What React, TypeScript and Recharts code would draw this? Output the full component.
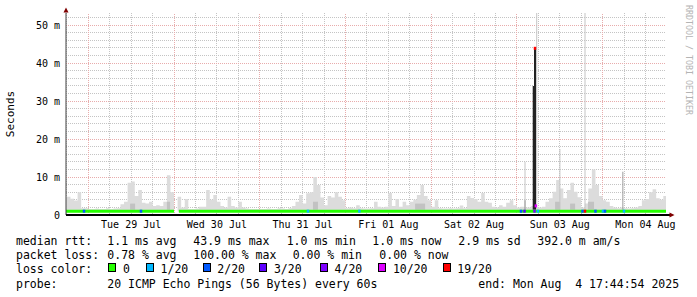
import React from 'react';
import {
  ComposedChart,
  Area,
  Line,
  Scatter,
  XAxis,
  YAxis,
  CartesianGrid,
  ReferenceLine,
  ReferenceArea,
  ReferenceDot
} from 'recharts';

// time axis is in hours since Mon 28 Jul 00:00
const startT = 17.75; // Mon 28 Jul 17:44:54
const endT = 185.75; // Mon 04 Aug 17:44:54
const firstHour = 17;
const minRtt = 0.9;
const yMax = 53.2;

// hourly smoke height (ms) - light grey band
const smokeJul28 = [4.8, 4.8, 4.3, 3.8, 6.0, 1.8, 1.8];
const smokeJul29 = [1.6, 1.6, 1.7, 1.6, 1.6, 1.8, 1.6, 1.7, 1.8, 2.8, 3.5, 8.5, 8.8, 5.0, 6.6, 3.2, 3.0, 3.5, 2.4, 2.6, 2.4, 3.5, 10.5, 6.0];
const smokeJul30 = [null, 4.8, 2.0, 4.2, 1.6, 1.6, 1.7, 2.2, 2.2, 6.6, 4.0, 5.3, 3.5, 2.4, 2.0, 4.8, 2.4, 2.0, 3.5, 2.0, 1.7, 1.6, 1.6, 1.6];
const smokeJul31 = [1.6, 1.6, 1.7, 1.6, 1.6, 1.8, 1.7, 1.6, 1.8, 2.4, 3.5, 5.3, 3.0, 5.7, 6.0, 10.0, 7.9, 4.6, 2.6, 5.0, 4.6, 6.0, 4.8, 3.9];
const smokeAug01 = [1.8, 2.0, 1.8, 2.6, 1.8, 1.7, 1.7, 1.8, 3.5, 2.2, 2.0, 2.2, 5.8, 2.4, 4.2, 2.2, 3.5, 2.6, 3.5, 4.0, 5.3, 7.9, 5.0, 3.9];
const smokeAug02 = [2.2, 3.9, 1.8, 1.7, 1.7, 1.8, 1.7, 1.8, 2.5, 1.8, 5.0, 4.5, 4.2, 3.5, 5.8, 3.5, 3.2, 2.2, 2.0, 2.6, 2.2, 3.2, 3.9, 2.6];
const smokeAug03 = [2.0, 2.2, 2.0, 2.0, 2.4, 2.0, 2.0, 2.2, 3.5, 4.4, 6.1, 9.2, 7.0, 4.4, 6.6, 8.5, 6.1, 4.7, 2.0, 3.0, 7.0, 12.0, 7.9, 5.0];
const smokeAug04 = [3.9, 3.5, 2.4, 2.0, 1.8, 2.0, 1.8, 1.7, 1.8, 2.0, 2.4, 3.9, 4.2, 6.0, 6.8, 4.4, 4.0, 5.0];

// denser smoke patches
const darkPatches = [
  { from: 35.7, to: 37.1, v: 3.0 },
  { from: 46.0, to: 46.9, v: 3.5 },
  { from: 86.9, to: 88.3, v: 3.5 },
  { from: 115.5, to: 118.3, v: 3.0 },
  { from: 154.7, to: 156.1, v: 3.5 },
  { from: 158.9, to: 160.3, v: 3.0 },
  { from: 163.9, to: 165.6, v: 3.5 }
];

// the big outage spike on Sun 03 Aug
const spikeBars = [
  { from: 148.43, to: 148.79, v: 34.0 },
  { from: 148.79, to: 149.35, v: 43.9 }
];

// single-sample smoke lines
const lightSpikes = [
  { t: 146.27, v: 14.0 },
  { t: 149.55, v: 53.2 },
  { t: 156.04, v: 17.4 },
  { t: 163.07, v: 53.2 }
];
const midSpikes = [
  { t: 146.27, v: 3.9 },
  { t: 173.67, v: 11.4 }
];

const medianPoints = [
  { t: 17.75, m: 1.0 },
  { t: 48.0, m: 1.0 },
  { t: 48.5, m: null },
  { t: 49.35, m: 1.0 },
  { t: 185.75, m: 1.0 }
];

// loss index into lossColors
const lossMarks = [
  { t: 22.8, v: 1.0, loss: 2 },
  { t: 38.75, v: 1.0, loss: 2 },
  { t: 85.5, v: 1.0, loss: 1 },
  { t: 99.9, v: 1.0, loss: 1 },
  { t: 145.15, v: 1.0, loss: 2 },
  { t: 146.13, v: 1.0, loss: 3 },
  { t: 148.93, v: 1.0, loss: 4 },
  { t: 149.3, v: 2.4, loss: 5 },
  { t: 149.07, v: 43.9, loss: 6 },
  { t: 149.9, v: 1.0, loss: 1 },
  { t: 162.37, v: 1.0, loss: 2 },
  { t: 163.07, v: 1.0, loss: 6 },
  { t: 166.0, v: 1.0, loss: 2 },
  { t: 168.1, v: 1.0, loss: 1 },
  { t: 168.67, v: 1.0, loss: 2 },
  { t: 173.99, v: 1.0, loss: 1 }
];

const lossLabels = ['0', '1/20', '2/20', '3/20', '4/20', '10/20', '19/20'];
const lossColors = ['#26ff00', '#00b8ff', '#0059ff', '#5e00ff', '#7e00ff', '#dd00ff', '#ff0000'];

const dayNoons = [36, 60, 84, 108, 132, 156, 180];
const dayLabels = ['Tue 29 Jul', 'Wed 30 Jul', 'Thu 31 Jul', 'Fri 01 Aug', 'Sat 02 Aug', 'Sun 03 Aug', 'Mon 04 Aug'];
const midnights = [24, 48, 72, 96, 120, 144, 168];
const sixHours = [18, 30, 36, 42, 54, 60, 66, 78, 84, 90, 102, 108, 114, 126, 132, 138, 150, 156, 162, 174, 180];
const yTicks = [0, 10, 20, 30, 40, 50];
const yMajor = [10, 20, 30, 40, 50];
const yMinor = [2, 4, 6, 8, 12, 14, 16, 18, 22, 24, 26, 28, 32, 34, 36, 38, 42, 44, 46, 48, 52];

const statsRtt = ['1.1 ms avg', '43.9 ms max', '1.0 ms min', '1.0 ms now', '2.9 ms sd', '392.0 m am/s'];
const statsLoss = ['0.78 % avg', '100.00 % max', '0.00 % min', '0.00 % now'];
const probeText = '20 ICMP Echo Pings (56 Bytes) every 60s';
const endText = 'end: Mon Aug  4 17:44:54 2025';

const smokeHigh = [smokeJul28, smokeJul29, smokeJul30, smokeJul31, smokeAug01, smokeAug02, smokeAug03, smokeAug04].flat();
const smokeData = smokeHigh.map((v, i) => ({
  t: firstHour + i,
  smoke: v == null ? [minRtt, minRtt] : [minRtt, v]
}));
smokeData.push({ t: firstHour + smokeHigh.length, smoke: smokeData[smokeData.length - 1].smoke });

const mono = '"DejaVu Sans Mono", monospace';
const arrowColor = '#7f0000';
const majorGrid = '#e8acac';

const rttX = [107.3, 193.3, 286.7, 372.3, 458.3, 537.3];
const lossX = [107.3, 193.3, 292.7, 379.3];
const boxX = [108.3, 146, 202.7, 259.3, 320, 378.3, 442.7];

const txt = (x: number, y: number, s: string, key?: string) => (
  <div
    key={key}
    style={{
      position: 'absolute',
      left: x,
      top: y - 7,
      height: 14,
      lineHeight: '14px',
      fontFamily: mono,
      fontSize: 11.5,
      color: '#000',
      whiteSpace: 'pre'
    }}
  >
    {s}
  </div>
);

export default function App() {
  return (
    <div style={{ position: 'absolute', left: 0, top: 0, width: 697, height: 297, background: '#fff' }}>
      <ComposedChart width={697} height={297} data={smokeData} margin={{ top: 13, right: 31, bottom: 62, left: 6 }}>
        <CartesianGrid
          stroke="#c4c4c4"
          strokeDasharray="1 1"
          horizontalValues={yMinor}
          verticalValues={sixHours}
          shapeRendering="crispEdges"
        />
        {yMajor.map((v) => (
          <ReferenceLine
            key={'gy' + v}
            segment={[{ x: startT, y: v }, { x: endT, y: v }]}
            stroke={majorGrid}
            strokeWidth={1}
            strokeDasharray="1 1"
            shapeRendering="crispEdges"
            zIndex={-90}
          />
        ))}
        {midnights.map((v) => (
          <ReferenceLine key={'gx' + v} x={v} stroke={majorGrid} strokeDasharray="1 1" shapeRendering="crispEdges" zIndex={-90} />
        ))}
        <XAxis
          type="number"
          dataKey="t"
          domain={[startT, endT]}
          allowDataOverflow
          ticks={dayNoons}
          interval={0}
          tickFormatter={(v: number) => dayLabels[dayNoons.indexOf(v)] ?? ''}
          axisLine={false}
          tickLine={false}
          tickSize={0}
          tickMargin={6}
          height={20}
          tick={{ fontFamily: mono, fontSize: 10, fill: '#000' }}
        />
        <YAxis
          type="number"
          domain={[0, yMax]}
          allowDataOverflow
          ticks={yTicks}
          interval={0}
          tickFormatter={(v: number) => (v === 0 ? '0' : `${v} m`)}
          axisLine={false}
          tickLine={false}
          tickSize={0}
          tickMargin={6}
          width={60}
          tick={{ fontFamily: mono, fontSize: 10, fill: '#000' }}
        />
        <Area
          dataKey="smoke"
          type="stepAfter"
          fill="#dcdcdc"
          fillOpacity={1}
          stroke="none"
          dot={false}
          activeDot={false}
          isAnimationActive={false}
        />
        {darkPatches.map((p, i) => (
          <ReferenceArea key={'dp' + i} x1={p.from} x2={p.to} y1={1.4} y2={p.v} fill="#c2c2c2" fillOpacity={1} stroke="none" />
        ))}
        {lightSpikes.map((s, i) => (
          <ReferenceLine key={'ls' + i} segment={[{ x: s.t, y: 1.4 }, { x: s.t, y: s.v }]} stroke="#c4c4c4" strokeWidth={1} />
        ))}
        {midSpikes.map((s, i) => (
          <ReferenceLine key={'ms' + i} segment={[{ x: s.t, y: 1.4 }, { x: s.t, y: s.v }]} stroke="#9a9a9a" strokeWidth={1} />
        ))}
        {spikeBars.map((p, i) => (
          <ReferenceArea key={'sb' + i} x1={p.from} x2={p.to} y1={1.4} y2={p.v} fill="#222" fillOpacity={1} stroke="none" />
        ))}
        <Line
          data={medianPoints}
          dataKey="m"
          type="linear"
          stroke={lossColors[0]}
          strokeWidth={3}
          dot={false}
          activeDot={false}
          connectNulls={false}
          isAnimationActive={false}
        />
        <Scatter
          data={lossMarks}
          dataKey="v"
          isAnimationActive={false}
          shape={(p: any) => (
            <rect x={p.cx - 1.25} y={p.cy - 1.5} width={2.5} height={3} fill={lossColors[p.payload.loss]} />
          )}
        />
        <ReferenceLine x={startT} stroke="#404040" strokeWidth={1} />
        <ReferenceLine y={0} stroke="#000" strokeWidth={2} />
        <ReferenceDot
          x={startT}
          y={yMax}
          ifOverflow="visible"
          shape={(p: any) => (
            <path d={`M${p.cx - 2.5},${p.cy - 0.5} L${p.cx + 2.5},${p.cy - 0.5} L${p.cx},${p.cy - 5.5} Z`} fill={arrowColor} />
          )}
        />
        <ReferenceDot
          x={endT}
          y={0}
          ifOverflow="visible"
          shape={(p: any) => (
            <g>
              <line x1={p.cx} y1={p.cy} x2={p.cx + 4} y2={p.cy} stroke="#000" strokeWidth={2} />
              <path d={`M${p.cx + 3.5},${p.cy - 2.5} L${p.cx + 3.5},${p.cy + 2.5} L${p.cx + 8.5},${p.cy} Z`} fill={arrowColor} />
            </g>
          )}
        />
      </ComposedChart>

      <div
        style={{
          position: 'absolute',
          left: 10.5 - 30,
          top: 113.5 - 7,
          width: 60,
          height: 14,
          lineHeight: '14px',
          textAlign: 'center',
          fontFamily: mono,
          fontSize: 11,
          color: '#000',
          transform: 'rotate(-90deg)'
        }}
      >
        Seconds
      </div>

      <svg style={{ position: 'absolute', left: 0, top: 0 }} width={697} height={130}>
        <text x={685.5} y={5} transform="rotate(90 685.5 5)" fontFamily={mono} fontSize={8.3} fill="#b4b4b4">
          RRDTOOL / TOBI OETIKER
        </text>
      </svg>

      {txt(16, 241.3, 'median rtt:')}
      {statsRtt.map((s, i) => txt(rttX[i], 241.3, s, 'r' + i))}
      {txt(16, 255.3, 'packet loss:')}
      {statsLoss.map((s, i) => txt(lossX[i], 255.3, s, 'l' + i))}
      {txt(16, 268.7, 'loss color:')}
      {lossLabels.map((s, i) => (
        <React.Fragment key={'c' + i}>
          <div
            style={{
              position: 'absolute',
              left: boxX[i],
              top: 263,
              width: 6,
              height: 7,
              border: '1px solid #000',
              background: lossColors[i]
            }}
          />
          {txt(boxX[i] + 14.6, 268.7, s)}
        </React.Fragment>
      ))}
      {txt(16, 283.7, 'probe:')}
      {txt(107.3, 283.7, probeText)}
      {txt(478.3, 283.7, endText)}
    </div>
  );
}
